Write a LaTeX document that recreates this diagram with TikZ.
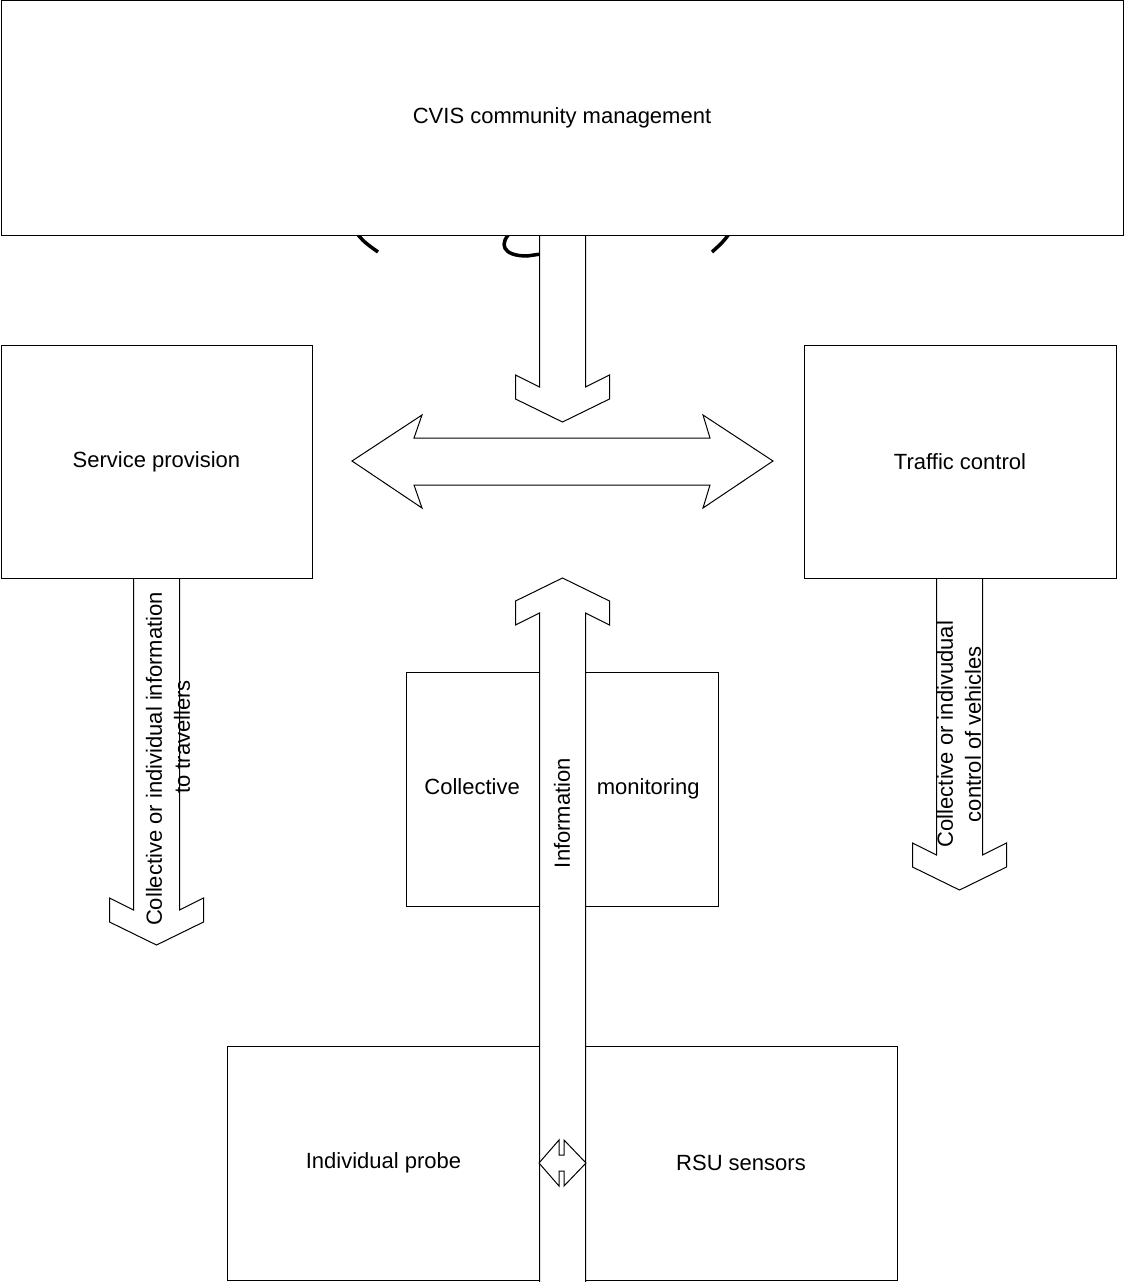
\documentclass[tikz,border=0pt]{standalone}
\usepackage{fontspec}
\setmainfont{Liberation Sans}
\usetikzlibrary{positioning}

\begin{document}
\begin{tikzpicture}[x=1pt,y=-1pt,line width=1pt,
  every node/.style={font=\fontsize{22}{28}\selectfont},
  box/.style={draw,fill=white,inner sep=0pt,outer sep=0pt},
  blockarrow/.style={draw,fill=white,line join=miter}]
  \useasboundingbox (0,0) rectangle (1124,1282);
  % glyph pieces peeking out below the top box
  \draw[line width=3.5pt] (354,230) .. controls (364,242) .. (378,252);
  \draw[line width=3.5pt] (513,230) .. controls (497,244) and (503,256) .. (527,256) -- (548,253);
  \draw[line width=3.5pt] (732,230) .. controls (723,242) .. (712,252);
  % lower boxes
  \node[box,minimum width=312pt,minimum height=234pt] (colmon) at (562,789) {Collective\hspace{77pt}monitoring};
  \node[box,minimum width=313pt,minimum height=234pt] (probe) at (383.5,1163) {Individual probe};
  \node[box,minimum width=312pt,minimum height=234pt] (rsu) at (741,1163) {RSU sensors};
  % vertical block arrows: centre/start/end of shaft/direction
  \foreach \x/\a/\b/\s in {562.5/236/387/1,156.5/579/910/1,959.5/579/855/1,562.5/1283/613/-1}{
    \draw[blockarrow] ({\x-23},\a) -- ({\x-23},\b) -- ({\x-47},{\b-12*\s}) -- ({\x-47},{\b+12*\s})
      -- (\x,{\b+35*\s}) -- ({\x+47},{\b+12*\s}) -- ({\x+47},{\b-12*\s}) -- ({\x+23},\b) -- ({\x+23},\a);
  }
  % horizontal double arrow
  \draw[blockarrow] (352,461) -- (422,415) -- (414,438) -- (710,438) -- (703,415) -- (773,461)
    -- (703,508) -- (710,485) -- (414,485) -- (422,508) -- cycle;
  % small double arrow between the sensors
  \draw[blockarrow] (539,1163) -- (559,1140) -- (559,1155) -- (564,1155) -- (564,1140) -- (586,1163)
    -- (564,1186) -- (564,1171) -- (559,1171) -- (559,1186) -- cycle;
  % upper boxes
  \node[box,minimum width=1122pt,minimum height=235pt] (cvis) at (562,118) {CVIS community management};
  \node[box,minimum width=311pt,minimum height=233pt] (service) at (156.5,461.5) {Service provision};
  \node[box,minimum width=312pt,minimum height=233pt] (traffic) at (960,461.5) {Traffic control};
  % arrow labels
  \node[rotate=90,align=center] (toTravel) at (168,759) {Collective or individual information\\\hspace{44pt}to travellers};
  \node[rotate=90,align=center] (toVeh) at (959,734) {Collective or indivudual\\control of vehicles};
  \node[rotate=90] (info) at (562,813) {Information};
\end{tikzpicture}
\end{document}
